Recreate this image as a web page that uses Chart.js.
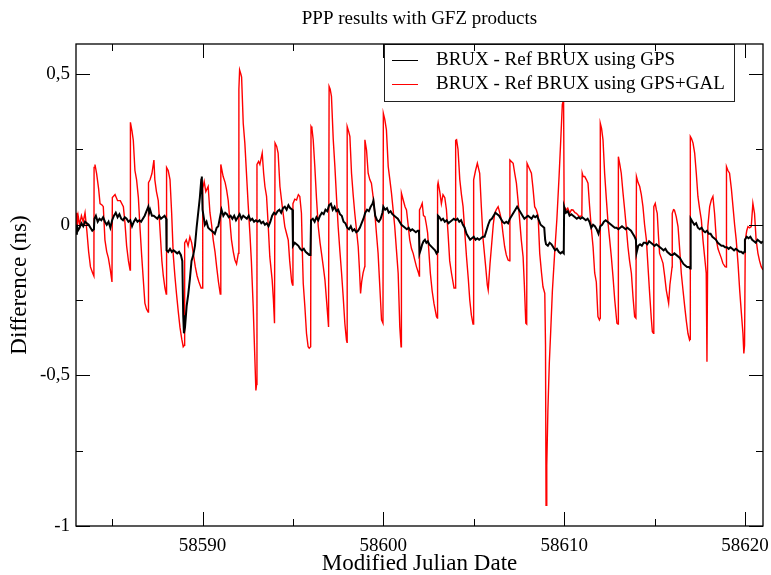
<!DOCTYPE html>
<html>
<head>
<meta charset="utf-8">
<title>PPP results with GFZ products</title>
<script src="https://cdn.jsdelivr.net/npm/chart.js@4.4.1/dist/chart.umd.min.js"></script>
<style>
  body { margin: 0; background: #fff; }
  canvas { display: block; }
</style>
</head>
<body>
<canvas id="pppChart" width="771" height="575"></canvas>
<script>
// BRUX - Ref BRUX using GPS (black)
const gpsMjd = [
  58583.0, 58583.05, 58583.1, 58583.2, 58583.3, 58583.4, 58583.5, 58583.6, 58583.7, 58583.8, 58583.9, 58583.99,
  58584.02, 58584.1, 58584.2, 58584.3, 58584.4, 58584.5, 58584.6, 58584.7, 58584.8, 58584.9,
  58585.0, 58585.1, 58585.2, 58585.3, 58585.4, 58585.5, 58585.6, 58585.7, 58585.8, 58585.9,
  58586.0, 58586.1, 58586.2, 58586.3, 58586.4, 58586.5, 58586.6, 58586.7, 58586.8, 58586.9,
  58587.0, 58587.05, 58587.1, 58587.2, 58587.3, 58587.4, 58587.5, 58587.6, 58587.7, 58587.8, 58587.9, 58587.99,
  58588.01, 58588.1, 58588.2, 58588.3, 58588.4, 58588.5, 58588.6, 58588.7, 58588.8, 58588.88, 58588.93, 58588.97,
  58589.03, 58589.12, 58589.21, 58589.3, 58589.39, 58589.49, 58589.58, 58589.67, 58589.76, 58589.85, 58589.93, 58589.96,
  58590.0, 58590.05, 58590.13, 58590.22, 58590.31, 58590.4, 58590.5, 58590.6, 58590.68, 58590.78, 58590.87, 58590.95,
  58591.05, 58591.15, 58591.25, 58591.35, 58591.45, 58591.55, 58591.65, 58591.75, 58591.85, 58591.95,
  58592.05, 58592.15, 58592.25, 58592.35, 58592.45, 58592.55, 58592.65, 58592.75, 58592.85, 58592.95,
  58593.05, 58593.15, 58593.25, 58593.35, 58593.45, 58593.55, 58593.65, 58593.75, 58593.85, 58593.95,
  58594.05, 58594.15, 58594.25, 58594.35, 58594.45, 58594.55, 58594.65, 58594.75, 58594.85, 58594.97,
  58595.0, 58595.1, 58595.2, 58595.3, 58595.4, 58595.5, 58595.6, 58595.7, 58595.8, 58595.9, 58595.97,
  58596.0, 58596.1, 58596.2, 58596.3, 58596.4, 58596.5, 58596.6, 58596.7, 58596.8, 58596.9,
  58597.0, 58597.1, 58597.2, 58597.3, 58597.4, 58597.5, 58597.6, 58597.7, 58597.8, 58597.9,
  58598.0, 58598.1, 58598.2, 58598.3, 58598.4, 58598.5, 58598.6, 58598.7, 58598.8, 58598.9,
  58599.0, 58599.1, 58599.2, 58599.3, 58599.4, 58599.45, 58599.55, 58599.65, 58599.75, 58599.85, 58599.95,
  58600.0, 58600.1, 58600.2, 58600.3, 58600.4, 58600.5, 58600.6, 58600.7, 58600.8, 58600.9,
  58601.0, 58601.1, 58601.2, 58601.3, 58601.4, 58601.5, 58601.6, 58601.7, 58601.8, 58601.9, 58601.97,
  58602.0, 58602.08, 58602.15, 58602.22, 58602.3, 58602.38, 58602.46, 58602.54, 58602.62, 58602.7, 58602.78, 58602.86, 58602.94, 58602.99,
  58603.02, 58603.1, 58603.2, 58603.3, 58603.4, 58603.5, 58603.6, 58603.7, 58603.8, 58603.9,
  58604.0, 58604.1, 58604.2, 58604.3, 58604.4, 58604.5, 58604.6, 58604.7, 58604.8, 58604.9,
  58605.0, 58605.1, 58605.2, 58605.3, 58605.4, 58605.5, 58605.6, 58605.7, 58605.8, 58605.9,
  58606.0, 58606.1, 58606.2, 58606.3, 58606.4, 58606.5, 58606.6, 58606.7, 58606.8, 58606.9,
  58607.0, 58607.1, 58607.2, 58607.3, 58607.4, 58607.5, 58607.6, 58607.7, 58607.8, 58607.9,
  58608.0, 58608.1, 58608.2, 58608.3, 58608.4, 58608.5, 58608.6, 58608.7, 58608.8, 58608.9, 58608.95,
  58609.0, 58609.1, 58609.2, 58609.3, 58609.4, 58609.5, 58609.6, 58609.7, 58609.8, 58609.9, 58609.98,
  58610.0, 58610.1, 58610.2, 58610.3, 58610.4, 58610.5, 58610.6, 58610.7, 58610.8, 58610.9,
  58611.0, 58611.1, 58611.2, 58611.3, 58611.4, 58611.5, 58611.6, 58611.7, 58611.8, 58611.9,
  58612.0, 58612.1, 58612.2, 58612.3, 58612.4, 58612.5, 58612.6, 58612.7, 58612.8, 58612.9,
  58613.0, 58613.1, 58613.2, 58613.3, 58613.4, 58613.5, 58613.6, 58613.7, 58613.8, 58613.9, 58613.97,
  58614.0, 58614.1, 58614.2, 58614.3, 58614.4, 58614.5, 58614.6, 58614.7, 58614.8, 58614.9,
  58615.0, 58615.1, 58615.2, 58615.3, 58615.4, 58615.5, 58615.6, 58615.7, 58615.8, 58615.9,
  58616.0, 58616.1, 58616.2, 58616.3, 58616.4, 58616.5, 58616.6, 58616.7, 58616.8, 58616.9, 58616.97,
  58617.0, 58617.1, 58617.2, 58617.3, 58617.4, 58617.5, 58617.6, 58617.7, 58617.8, 58617.9,
  58618.0, 58618.1, 58618.2, 58618.3, 58618.4, 58618.5, 58618.6, 58618.7, 58618.8, 58618.9,
  58619.0, 58619.1, 58619.2, 58619.3, 58619.4, 58619.5, 58619.6, 58619.7, 58619.8, 58619.9, 58619.97,
  58620.0, 58620.1, 58620.2, 58620.3, 58620.4, 58620.5, 58620.6, 58620.7, 58620.8, 58620.9, 58621.0
];
const gpsDiff = [
  -0.03, 0.0, -0.02, -0.01, 0.005, -0.005, 0.01, 0.005, 0.0, -0.01, -0.02, -0.015,
  0.02, 0.03, 0.01, 0.02, 0.015, 0.025, 0.01, 0.0, 0.01, -0.01,
  0.015, 0.03, 0.04, 0.025, 0.035, 0.02, 0.015, 0.025, 0.02, 0.01,
  0.015, -0.005, 0.01, 0.02, 0.01, 0.015, 0.01, 0.02, 0.03, 0.045,
  0.06, 0.04, 0.05, 0.03, 0.03, 0.025, 0.02, 0.03, 0.02, 0.025, 0.03, 0.02,
  -0.085, -0.09, -0.08, -0.09, -0.085, -0.09, -0.095, -0.09, -0.1, -0.12, -0.3, -0.36,
  -0.34, -0.27, -0.23, -0.18, -0.12, -0.1, -0.07, -0.01, 0.04, 0.09, 0.15, 0.16,
  0.05, 0.03, 0.0, 0.01, -0.01, -0.015, -0.02, -0.025, -0.03, -0.01, -0.005, 0.02,
  0.05, 0.03, 0.04, 0.035, 0.025, 0.03, 0.02, 0.03, 0.015, 0.025,
  0.035, 0.02, 0.03, 0.025, 0.02, 0.03, 0.015, 0.02, 0.01, 0.015,
  0.01, 0.015, 0.005, 0.01, 0.0, 0.005, -0.005, 0.01, 0.03, 0.04,
  0.035, 0.045, 0.05, 0.04, 0.055, 0.06, 0.05, 0.065, 0.055, 0.05,
  -0.07, -0.06, -0.065, -0.07, -0.08, -0.085, -0.08, -0.09, -0.095, -0.1, -0.1,
  0.015, 0.02, 0.01, 0.025, 0.015, 0.03, 0.04, 0.035, 0.05, 0.045,
  0.065, 0.07, 0.05, 0.06, 0.045, 0.05, 0.035, 0.03, 0.01, 0.005,
  -0.01, -0.015, -0.005, -0.02, -0.015, -0.025, -0.02, -0.01, 0.005, 0.02,
  0.04, 0.05, 0.045, 0.06, 0.07, 0.08, 0.03, 0.015, 0.01, 0.02, 0.04,
  0.06, 0.05, 0.055, 0.04, 0.045, 0.035, 0.03, 0.025, 0.02, 0.01,
  0.0, -0.005, -0.01, -0.015, -0.01, -0.02, -0.015, -0.02, -0.025, -0.02, -0.02,
  -0.095, -0.08, -0.065, -0.055, -0.05, -0.06, -0.055, -0.065, -0.07, -0.075, -0.08, -0.085, -0.095, -0.09,
  0.03, 0.025, 0.015, 0.02, 0.01, 0.015, 0.005, 0.01, 0.015, 0.02,
  0.015, 0.02, 0.01, 0.015, 0.0, -0.01, -0.03, -0.04, -0.05, -0.045,
  -0.04, -0.05, -0.045, -0.05, -0.045, -0.04, -0.04, -0.02, 0.0, 0.015,
  0.02, 0.03, 0.04, 0.035, 0.03, 0.02, 0.01, 0.005, 0.01, 0.005,
  0.02, 0.03, 0.04, 0.05, 0.06, 0.05, 0.04, 0.03, 0.02, 0.025,
  0.03, 0.025, 0.02, 0.03, 0.025, 0.03, 0.015, 0.0, -0.005, -0.01, -0.05,
  -0.065, -0.07, -0.06, -0.065, -0.075, -0.085, -0.08, -0.09, -0.095, -0.09, -0.095,
  0.06, 0.04, 0.045, 0.03, 0.035, 0.03, 0.025, 0.02, 0.025, 0.02,
  0.025, 0.02, 0.015, 0.02, 0.01, -0.01, 0.0, -0.005, -0.015, -0.03,
  -0.005, 0.0, 0.01, 0.015, 0.01, 0.005, 0.0, -0.005, -0.01, -0.01,
  -0.015, -0.01, -0.005, -0.01, -0.015, -0.01, -0.015, -0.02, -0.03, -0.04, -0.05,
  -0.095, -0.07, -0.065, -0.07, -0.06, -0.06, -0.065, -0.055, -0.06, -0.065,
  -0.07, -0.065, -0.07, -0.075, -0.08, -0.085, -0.08, -0.09, -0.095, -0.1,
  -0.1, -0.095, -0.1, -0.105, -0.11, -0.12, -0.13, -0.135, -0.14, -0.14, -0.145,
  0.02, 0.01, 0.0, 0.005, -0.01, -0.015, -0.01, -0.02, -0.025, -0.02,
  -0.03, -0.03, -0.04, -0.045, -0.05, -0.06, -0.065, -0.07, -0.07, -0.075,
  -0.075, -0.08, -0.075, -0.08, -0.085, -0.08, -0.085, -0.09, -0.09, -0.095, -0.09,
  -0.05, -0.04, -0.045, -0.04, -0.05, -0.055, -0.06, -0.05, -0.055, -0.06, -0.055
];

// BRUX - Ref BRUX using GPS+GAL (red)
const galMjd = [
  58583.0, 58583.05, 58583.12, 58583.2, 58583.3, 58583.4, 58583.5, 58583.6, 58583.7, 58583.8, 58583.92, 58583.99,
  58584.0, 58584.05, 58584.14, 58584.25, 58584.33, 58584.45, 58584.51, 58584.6, 58584.7, 58584.79, 58584.9, 58584.99,
  58585.01, 58585.16, 58585.3, 58585.45, 58585.62, 58585.71, 58585.8, 58585.9, 58585.99,
  58586.01, 58586.1, 58586.17, 58586.26, 58586.35, 58586.45, 58586.54, 58586.63, 58586.72, 58586.81, 58586.9, 58586.99,
  58587.01, 58587.1, 58587.2, 58587.31, 58587.36, 58587.45, 58587.55, 58587.64, 58587.75, 58587.83, 58587.92, 58587.99,
  58588.01, 58588.1, 58588.2, 58588.29, 58588.38, 58588.47, 58588.56, 58588.66, 58588.75, 58588.85, 58588.93, 58588.99,
  58589.01, 58589.1, 58589.2, 58589.3, 58589.4, 58589.5, 58589.6, 58589.7, 58589.8, 58589.92, 58589.99,
  58590.01, 58590.09, 58590.18, 58590.31, 58590.41, 58590.5, 58590.59, 58590.69, 58590.78, 58590.88, 58590.98,
  58591.01, 58591.14, 58591.25, 58591.33, 58591.42, 58591.5, 58591.6, 58591.7, 58591.79, 58591.88, 58591.98,
  58592.01, 58592.05, 58592.12, 58592.16, 58592.25, 58592.34, 58592.43, 58592.52, 58592.62, 58592.7, 58592.8, 58592.88, 58592.95, 58592.99,
  58593.01, 58593.1, 58593.17, 58593.3, 58593.38, 58593.45, 58593.54, 58593.63, 58593.72, 58593.85, 58593.92, 58593.98,
  58594.01, 58594.1, 58594.18, 58594.28, 58594.41, 58594.55, 58594.65, 58594.74, 58594.82, 58594.93, 58594.98,
  58595.0, 58595.1, 58595.2, 58595.3, 58595.38, 58595.47, 58595.52, 58595.57, 58595.66, 58595.75, 58595.84, 58595.9, 58595.98,
  58596.0, 58596.05, 58596.12, 58596.21, 58596.3, 58596.4, 58596.5, 58596.58, 58596.68, 58596.77, 58596.87, 58596.97,
  58597.0, 58597.06, 58597.13, 58597.23, 58597.32, 58597.41, 58597.5, 58597.6, 58597.69, 58597.78, 58597.87, 58597.96, 58597.99,
  58598.0, 58598.08, 58598.15, 58598.24, 58598.33, 58598.42, 58598.52, 58598.61, 58598.68, 58598.74, 58598.8, 58598.88, 58598.97,
  58598.98, 58599.07, 58599.16, 58599.25, 58599.34, 58599.44, 58599.53, 58599.62, 58599.71, 58599.8, 58599.9, 58599.98,
  58600.0, 58600.08, 58600.17, 58600.27, 58600.36, 58600.45, 58600.54, 58600.63, 58600.72, 58600.82, 58600.91, 58600.98,
  58601.0, 58601.1, 58601.2, 58601.28, 58601.37, 58601.46, 58601.56, 58601.65, 58601.75, 58601.83, 58601.95, 58601.99,
  58602.0, 58602.08, 58602.15, 58602.22, 58602.3, 58602.38, 58602.45, 58602.52, 58602.6, 58602.7, 58602.8, 58602.94, 58602.99,
  58603.0, 58603.03, 58603.12, 58603.21, 58603.3, 58603.4, 58603.49, 58603.58, 58603.67, 58603.77, 58603.91, 58603.99,
  58604.0, 58604.05, 58604.13, 58604.23, 58604.32, 58604.41, 58604.5, 58604.6, 58604.7, 58604.78, 58604.87, 58604.96, 58604.99,
  58605.0, 58605.1, 58605.2, 58605.33, 58605.42, 58605.52, 58605.66, 58605.75, 58605.8, 58605.9, 58605.98,
  58606.08, 58606.16, 58606.25, 58606.35, 58606.44, 58606.53, 58606.62, 58606.71, 58606.8, 58606.9, 58606.98,
  58607.0, 58607.08, 58607.18, 58607.27, 58607.36, 58607.45, 58607.54, 58607.63, 58607.73, 58607.8, 58607.88, 58607.93,
  58607.95, 58608.05, 58608.19, 58608.28, 58608.37, 58608.46, 58608.56, 58608.65, 58608.75, 58608.83, 58608.93, 58608.97,
  58609.0, 58609.04, 58609.1, 58609.18, 58609.26, 58609.35, 58609.47, 58609.6, 58609.72, 58609.82, 58609.9, 58609.97,
  58610.0, 58610.12, 58610.2, 58610.31, 58610.4, 58610.49, 58610.6, 58610.68, 58610.8, 58610.86, 58610.98,
  58611.0, 58611.05, 58611.14, 58611.23, 58611.32, 58611.41, 58611.5, 58611.6, 58611.69, 58611.78, 58611.87, 58611.95, 58611.99,
  58612.0, 58612.07, 58612.15, 58612.24, 58612.33, 58612.43, 58612.52, 58612.61, 58612.7, 58612.8, 58612.92, 58612.98,
  58613.0, 58613.08, 58613.16, 58613.25, 58613.35, 58613.44, 58613.53, 58613.62, 58613.72, 58613.81, 58613.9, 58613.97,
  58614.0, 58614.09, 58614.18, 58614.27, 58614.36, 58614.45, 58614.55, 58614.64, 58614.73, 58614.82, 58614.88, 58614.94,
  58614.96, 58615.04, 58615.1, 58615.15, 58615.22, 58615.28, 58615.37, 58615.47, 58615.56, 58615.65, 58615.78, 58615.85, 58615.93, 58615.97,
  58615.98, 58616.05, 58616.1, 58616.2, 58616.3, 58616.39, 58616.48, 58616.58, 58616.67, 58616.76, 58616.85, 58616.94, 58616.97,
  58616.98, 58617.05, 58617.13, 58617.22, 58617.31, 58617.4, 58617.5, 58617.59, 58617.68, 58617.77, 58617.86, 58617.9, 58617.95,
  58618.05, 58618.14, 58618.23, 58618.32, 58618.42, 58618.51, 58618.6, 58618.69, 58618.78, 58618.9, 58618.97,
  58618.98, 58619.06, 58619.15, 58619.25, 58619.34, 58619.43, 58619.52, 58619.62, 58619.71, 58619.8, 58619.89, 58619.94, 58619.98,
  58620.02, 58620.1, 58620.17, 58620.26, 58620.35, 58620.44, 58620.53, 58620.62, 58620.72, 58620.81, 58620.9, 58621.0
];
const galDiff = [
  0.04, -0.02, 0.03, 0.0, 0.03, 0.01, 0.04, -0.02, -0.09, -0.14, -0.16, -0.17,
  0.19, 0.2, 0.17, 0.12, 0.07, 0.065, 0.06, -0.05, -0.09, -0.11, -0.15, -0.19,
  0.09, 0.1, 0.08, 0.08, 0.06, 0.005, -0.07, -0.12, -0.15,
  0.34, 0.31, 0.28, 0.18, 0.15, 0.09, -0.01, -0.1, -0.18, -0.26, -0.28, -0.29,
  0.14, 0.15, 0.17, 0.215, 0.15, 0.11, 0.08, -0.01, -0.12, -0.17, -0.21, -0.23,
  0.19, 0.18, 0.15, 0.04, -0.1, -0.17, -0.23, -0.29, -0.34, -0.38, -0.405, -0.4,
  -0.06, -0.05, -0.07, -0.04, -0.06, -0.1, -0.14, -0.17, -0.19, -0.21, -0.21,
  0.12, 0.143, 0.11, 0.127, 0.04, 0.0, -0.05, -0.09, -0.14, -0.19, -0.23,
  0.2, 0.16, 0.14, 0.116, 0.08, 0.02, -0.05, -0.09, -0.117, -0.13, -0.095,
  0.45, 0.514, 0.5, 0.49, 0.337, 0.27, 0.17, 0.07, -0.03, -0.12, -0.27, -0.42, -0.55, -0.53,
  0.2, 0.21, 0.2, 0.238, 0.17, 0.127, 0.094, 0.0, -0.106, -0.183, -0.25, -0.327,
  0.271, 0.26, 0.238, 0.127, 0.06, -0.006, -0.03, -0.051, -0.12, -0.19, -0.2,
  0.07, 0.085, 0.082, 0.1, 0.094, 0.038, -0.09, -0.195, -0.272, -0.361, -0.405, -0.41, -0.405,
  0.326, 0.32, 0.282, 0.193, 0.09, -0.006, -0.06, -0.095, -0.14, -0.183, -0.26, -0.339,
  0.459, 0.45, 0.426, 0.282, 0.193, 0.09, -0.006, -0.09, -0.161, -0.24, -0.327, -0.383, -0.39,
  0.326, 0.31, 0.293, 0.171, 0.1, 0.038, -0.02, -0.073, -0.15, -0.228, -0.19, -0.16, -0.139,
  0.282, 0.248, 0.171, 0.15, 0.138, 0.09, 0.038, -0.03, -0.095, -0.2, -0.316, -0.327,
  0.37, 0.35, 0.315, 0.193, 0.15, 0.105, 0.05, -0.006, -0.08, -0.161, -0.339, -0.405,
  0.105, 0.082, 0.06, 0.049, 0.0, -0.05, -0.08, -0.095, -0.12, -0.139, -0.161, -0.17,
  0.049, 0.06, 0.071, 0.03, 0.027, 0.0, -0.028, -0.09, -0.161, -0.22, -0.261, -0.305, -0.31,
  0.13, 0.14, 0.11, 0.07, 0.1, 0.09, 0.05, -0.03, -0.12, -0.161, -0.21, -0.21,
  0.28, 0.282, 0.25, 0.149, 0.1, 0.06, -0.02, -0.106, -0.18, -0.25, -0.3, -0.33, -0.327,
  0.149, 0.18, 0.204, 0.171, 0.06, -0.05, -0.139, -0.2, -0.217, -0.13, -0.073,
  0.0, 0.038, 0.05, 0.06, 0.04, 0.016, -0.03, -0.073, -0.1, -0.117, -0.12,
  0.215, 0.21, 0.204, 0.17, 0.138, 0.08, 0.016, -0.05, -0.106, -0.2, -0.327, -0.33,
  0.204, 0.19, 0.171, 0.12, 0.06, 0.05, 0.03, -0.095, -0.16, -0.206, -0.228, -0.4,
  -0.931, -0.8, -0.62, -0.46, -0.35, -0.22, -0.1, 0.02, 0.16, 0.29, 0.4, 0.415,
  0.06, 0.049, 0.055, 0.038, 0.05, 0.049, 0.04, 0.038, 0.03, 0.027, 0.03,
  0.171, 0.16, 0.16, 0.15, 0.138, 0.06, -0.01, -0.073, -0.16, -0.19, -0.305, -0.316, -0.31,
  0.337, 0.32, 0.282, 0.171, 0.09, 0.005, -0.05, -0.106, -0.17, -0.25, -0.327, -0.33,
  0.226, 0.2, 0.171, 0.11, 0.049, -0.01, -0.073, -0.12, -0.161, -0.24, -0.305, -0.31,
  0.16, 0.14, 0.127, 0.1, 0.06, 0.0, -0.05, -0.14, -0.228, -0.31, -0.355, -0.36,
  0.06, 0.071, 0.05, 0.038, -0.04, -0.095, -0.11, -0.128, -0.17, -0.217, -0.261, -0.2, -0.161, -0.14,
  0.038, 0.05, 0.049, 0.027, -0.006, -0.08, -0.161, -0.22, -0.272, -0.32, -0.361, -0.383, -0.38,
  0.293, 0.285, 0.271, 0.238, 0.171, 0.094, 0.05, 0.016, -0.051, -0.106, -0.161, -0.455, -0.006,
  0.06, 0.082, 0.094, 0.038, -0.051, -0.08, -0.095, -0.11, -0.128, -0.139, -0.14,
  0.193, 0.18, 0.171, 0.12, 0.06, 0.0, -0.051, -0.13, -0.217, -0.29, -0.361, -0.427, -0.4,
  -0.051, -0.02, -0.006, -0.01, -0.006, 0.071, 0.038, -0.05, -0.095, -0.12, -0.139, -0.15
];

const seriesLabels = ['BRUX - Ref BRUX using GPS', 'BRUX - Ref BRUX using GPS+GAL'];
const seriesColors = ['#000000', '#ff0000'];
const xMajorTicks = [58590, 58600, 58610, 58620];
const xMinorTicks = [58585, 58595, 58605, 58615];
const yMajorTicks = [-1, -0.5, 0, 0.5];
const yMinorTicks = [-0.75, -0.25, 0.25];

const SERIF = '"Liberation Serif", "Times New Roman", serif';

function toPoints(xs, ys) {
    return xs.map((x, i) => ({ x, y: ys[i] }));
}

// grace-style frame: box round the plot, ticks pointing inwards on all 4 sides, title, legend box
const gracePlugin = {
    id: 'grace',
    afterDatasetsDraw(chart) {
        const { ctx, chartArea: a } = chart;
        const left = Math.round(a.right - 379), top = Math.round(a.top);
        const right = Math.round(a.right - 29), bottom = top + 57;
        ctx.save();
        ctx.fillStyle = '#fff';
        ctx.fillRect(left, top, right - left, bottom - top);
        ctx.strokeStyle = '#222';
        ctx.lineWidth = 1;
        ctx.strokeRect(left + 0.5, top + 0.5, right - left, bottom - top);
        ctx.font = '19px ' + SERIF;
        ctx.textBaseline = 'middle';
        ctx.textAlign = 'left';
        seriesLabels.forEach((label, i) => {
            const y = top + 16 + i * 24;
            ctx.strokeStyle = seriesColors[i];
            ctx.beginPath();
            ctx.moveTo(left + 8, y + 0.5);
            ctx.lineTo(left + 34, y + 0.5);
            ctx.stroke();
            ctx.fillStyle = '#000';
            ctx.fillText(label, left + 52, y);
        });
        ctx.restore();
    },
    afterDraw(chart) {
        const { ctx, chartArea: a, scales: { x, y } } = chart;
        ctx.save();
        ctx.strokeStyle = '#000';
        ctx.lineWidth = 1.3;
        ctx.strokeRect(a.left, a.top, a.right - a.left, a.bottom - a.top);

        ctx.lineWidth = 1;
        ctx.beginPath();
        const xTick = (v, len) => {
            const px = Math.round(x.getPixelForValue(v)) + 0.5;
            ctx.moveTo(px, a.bottom); ctx.lineTo(px, a.bottom - len);
            ctx.moveTo(px, a.top); ctx.lineTo(px, a.top + len);
        };
        const yTick = (v, len) => {
            const py = Math.round(y.getPixelForValue(v)) + 0.5;
            ctx.moveTo(a.left, py); ctx.lineTo(a.left + len, py);
            ctx.moveTo(a.right, py); ctx.lineTo(a.right - len, py);
        };
        xMajorTicks.forEach(v => xTick(v, 14));
        xMinorTicks.forEach(v => xTick(v, 7));
        yMajorTicks.forEach(v => yTick(v, 14));
        yMinorTicks.forEach(v => yTick(v, 7));
        ctx.stroke();

        ctx.fillStyle = '#000';
        ctx.font = '19px ' + SERIF;
        ctx.textAlign = 'center';
        ctx.textBaseline = 'middle';
        ctx.fillText('PPP results with GFZ products', (a.left + a.right) / 2, 19);
        ctx.restore();
    }
};

const ctx = document.getElementById('pppChart').getContext('2d');
const chart = new Chart(ctx, {
    type: 'line',
    data: {
        datasets: [
            {
                label: seriesLabels[0],
                data: toPoints(gpsMjd, gpsDiff),
                borderColor: seriesColors[0],
                borderWidth: 2,
                pointRadius: 0
            },
            {
                label: seriesLabels[1],
                data: toPoints(galMjd, galDiff),
                borderColor: seriesColors[1],
                borderWidth: 1.4,
                pointRadius: 0
            }
        ]
    },
    options: {
        responsive: false,
        devicePixelRatio: 1,
        animation: false,
        layout: { padding: { top: 44, right: 8, left: 0, bottom: 0 } },
        plugins: {
            legend: { display: false },
            tooltip: { enabled: false }
        },
        scales: {
            x: {
                type: 'linear',
                min: 58583,
                max: 58621,
                afterFit: scale => {
                    scale.height = 49;
                    scale.paddingLeft = 0;
                    scale.paddingRight = 0;
                },
                afterBuildTicks: scale => { scale.ticks = xMajorTicks.map(v => ({ value: v })); },
                grid: { display: false, drawTicks: false },
                border: { display: false },
                ticks: {
                    color: '#000',
                    padding: 9,
                    maxRotation: 0,
                    font: { family: SERIF, size: 19, lineHeight: 1.2 },
                    callback: v => String(v)
                },
                title: {
                    display: true,
                    text: 'Modified Julian Date',
                    color: '#000',
                    padding: { top: 0, bottom: 0 },
                    font: { family: SERIF, size: 23, lineHeight: 1 }
                }
            },
            y: {
                type: 'linear',
                min: -1,
                max: 0.6,
                afterFit: scale => {
                    scale.width = 76;
                    scale.paddingTop = 0;
                    scale.paddingBottom = 0;
                },
                afterBuildTicks: scale => { scale.ticks = yMajorTicks.map(v => ({ value: v })); },
                grid: { display: false, drawTicks: false },
                border: { display: false },
                ticks: {
                    color: '#000',
                    padding: 6,
                    font: { family: SERIF, size: 19, lineHeight: 1.2 },
                    callback: v => String(v).replace('.', ',')
                },
                title: {
                    display: true,
                    text: 'Difference (ns)',
                    color: '#000',
                    padding: { top: 8, bottom: 0 },
                    font: { family: SERIF, size: 23, lineHeight: 1 }
                }
            }
        }
    },
    plugins: [gracePlugin]
});
</script>
</body>
</html>
